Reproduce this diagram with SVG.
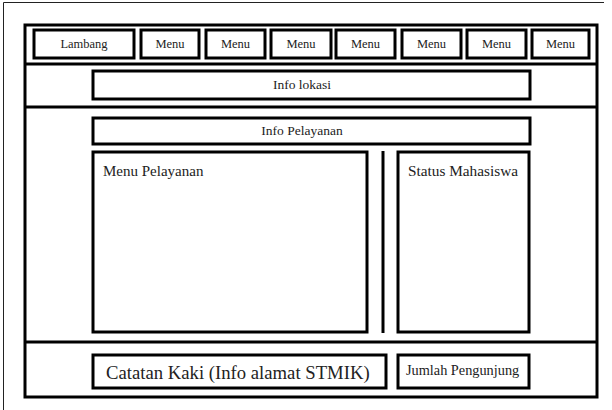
<svg xmlns="http://www.w3.org/2000/svg" width="612" height="410" viewBox="0 0 612 410">
<style>
.b{fill:#fff;stroke:#000;stroke-width:3}
.l{stroke:#000;stroke-width:3;fill:none}
text{font-family:"Liberation Serif","Times New Roman",serif;fill:#222}
.s{font-size:12.5px;text-anchor:middle}
.m{font-size:13.5px;text-anchor:middle}
</style>
<rect x="0" y="0" width="612" height="410" fill="#fff"/>
<path d="M604 2.5H3.5V410" fill="none" stroke="#222" stroke-width="1"/>
<g id="frame">
<rect class="b" x="25" y="25" width="572" height="372"/>
<line class="l" x1="25" y1="64" x2="597" y2="64"/>
<line class="l" x1="25" y1="107" x2="597" y2="107"/>
<line class="l" x1="25" y1="342" x2="597" y2="342"/>
</g>
<g id="lambang"><rect class="b" x="34" y="30" width="100" height="28"/><text class="s" x="84" y="48">Lambang</text></g>
<g id="menu1"><rect class="b" x="141" y="30" width="58" height="28"/><text class="s" x="170" y="48">Menu</text></g>
<g id="menu2"><rect class="b" x="206" y="30" width="59" height="28"/><text class="s" x="235.5" y="48">Menu</text></g>
<g id="menu3"><rect class="b" x="271" y="30" width="60" height="28"/><text class="s" x="301" y="48">Menu</text></g>
<g id="menu4"><rect class="b" x="336" y="30" width="59" height="28"/><text class="s" x="365.5" y="48">Menu</text></g>
<g id="menu5"><rect class="b" x="402" y="30" width="59" height="28"/><text class="s" x="431.5" y="48">Menu</text></g>
<g id="menu6"><rect class="b" x="467" y="30" width="59" height="28"/><text class="s" x="496.5" y="48">Menu</text></g>
<g id="menu7"><rect class="b" x="532" y="30" width="57" height="28"/><text class="s" x="560.5" y="48">Menu</text></g>
<g id="info-lokasi"><rect class="b" x="93" y="71" width="437" height="28"/><text class="m" x="302" y="89">Info lokasi</text></g>
<g id="info-pelayanan"><rect class="b" x="93" y="118" width="437" height="26"/><text class="m" x="302" y="135">Info Pelayanan</text></g>
<g id="menu-pelayanan"><rect class="b" x="93" y="152" width="274" height="180"/><text x="103" y="176" font-size="15">Menu Pelayanan</text></g>
<g id="divider"><line class="l" x1="383" y1="151" x2="383" y2="333"/></g>
<g id="status-mahasiswa"><rect class="b" x="398" y="152" width="131" height="180"/><text x="408" y="176" font-size="15.3">Status Mahasiswa</text></g>
<g id="catatan-kaki"><rect class="b" x="93" y="355" width="293" height="33"/><text x="106" y="379" font-size="18.7">Catatan Kaki (Info alamat STMIK)</text></g>
<g id="jumlah-pengunjung"><rect class="b" x="398" y="355" width="131" height="33"/><text x="406" y="375" font-size="14.3">Jumlah Pengunjung</text></g>
</svg>
